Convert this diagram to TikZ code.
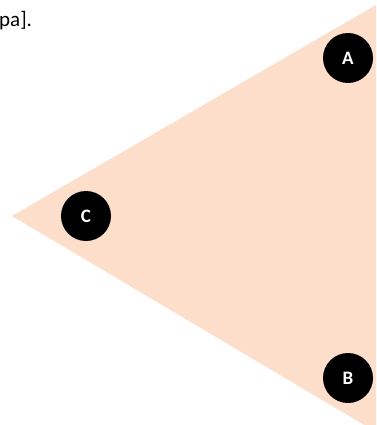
\documentclass[tikz,border=0pt]{standalone}
\usepackage{fontspec}
\setmainfont{Carlito}
\definecolor{peach}{RGB}{252,222,202}
\tikzset{
  lbl/.style={circle, fill=black, minimum size=50pt, inner sep=0pt, text=white, font=\fontsize{19}{19}\selectfont\bfseries},
}
\begin{document}
\begin{tikzpicture}[x=1pt,y=-1pt]
\useasboundingbox (0,0) rectangle (376,425);
\coordinate (tA) at (376,5);
\coordinate (tC) at (12,216);
\coordinate (tB) at (376,432);
\fill[peach] (tA) -- (tC) -- (tB) -- cycle;
\node[anchor=base west, inner sep=0pt, font=\fontsize{21}{21}\selectfont] (txt) at (-1,27) {pa].};
\node[lbl] (A) at (348,58) {A};
\node[lbl] (C) at (86,216) {C};
\node[lbl] (B) at (348,378) {B};
\end{tikzpicture}
\end{document}
